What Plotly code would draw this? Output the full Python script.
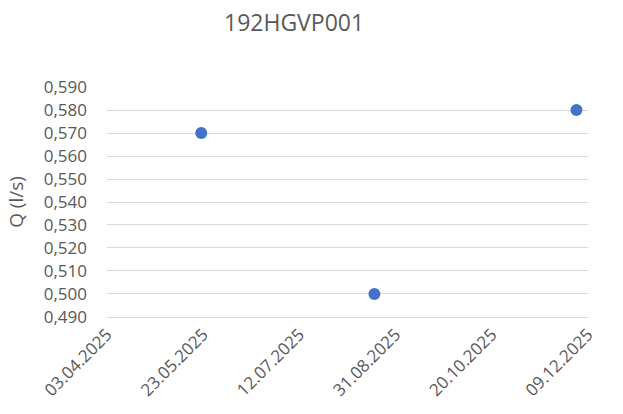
import plotly.graph_objects as go

# Measurement dates and flow values
dates = ["2025-05-22", "2025-08-20", "2025-12-03"]
flows = [0.570, 0.500, 0.580]

title_text = "192HGVP001"
y_title = "Q (l/s)"
x_start, x_end = "2025-04-03", "2025-12-09"
y_min, y_max, y_step = 0.490, 0.590, 0.010

FONT = "Open Sans"
TEXT_COLOR = "#595959"
GRID_COLOR = "#d9d9d9"

fig = go.Figure(
    go.Scatter(
        x=dates,
        y=flows,
        mode="markers",
        marker=dict(color="#4472C4", size=12),
        showlegend=False,
    )
)

fig.update_layout(
    width=623,
    height=414,
    margin=dict(l=107, r=35, t=87, b=97),
    paper_bgcolor="white",
    plot_bgcolor="white",
    separators=",.",
    font=dict(family=FONT, size=17, color=TEXT_COLOR),
    title=dict(
        text=title_text,
        x=0.472,
        xanchor="center",
        y=0.945,
        yanchor="middle",
        font=dict(family=FONT, size=23, color=TEXT_COLOR),
    ),
)

fig.update_xaxes(
    type="date",
    range=[x_start, x_end],
    tick0=x_start,
    dtick=50 * 86400000,
    tickformat="%d.%m.%Y",
    tickangle=-45,
    showgrid=False,
    zeroline=False,
    showline=True,
    linecolor=GRID_COLOR,
    linewidth=1,
    ticks="",
    tickfont=dict(family=FONT, size=17, color=TEXT_COLOR),
)

fig.update_yaxes(
    range=[y_min - 0.00005, y_max + 0.00005],
    tick0=y_min,
    dtick=y_step,
    tickformat=".3f",
    showgrid=True,
    gridcolor=GRID_COLOR,
    gridwidth=1,
    zeroline=False,
    showline=False,
    ticks="",
    ticklabelstandoff=19,
    tickfont=dict(family=FONT, size=17, color=TEXT_COLOR),
    title=dict(text=y_title, font=dict(family=FONT, size=19, color=TEXT_COLOR), standoff=15),
)

fig.write_html("out.html")
